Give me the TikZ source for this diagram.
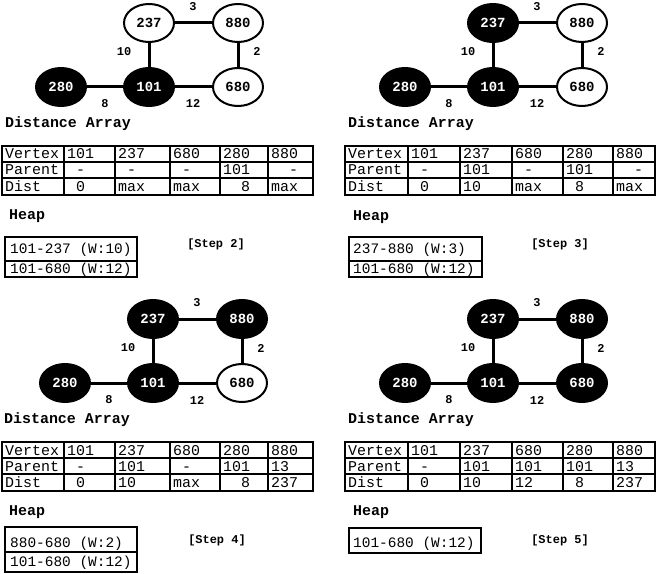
\documentclass[tikz,border=0pt]{standalone}
\usepackage{fontspec}
\setmonofont{Liberation Mono}
\usetikzlibrary{shapes.geometric}

\begin{document}
\begin{tikzpicture}[x=1bp,y=-1bp,
    vtx/.style={ellipse,draw,line width=2bp,minimum width=50bp,minimum height=38bp,inner sep=0pt,
      font=\ttfamily\bfseries\fontsize{14}{14}\selectfont},
    done/.style={vtx,fill=black,text=white},
    open/.style={vtx,fill=white,text=black},
    edge/.style={line width=3bp},
    wt/.style={inner sep=0pt,font=\ttfamily\bfseries\fontsize{12}{12}\selectfont},
    title/.style={anchor=west,inner sep=0pt,font=\ttfamily\bfseries\fontsize{15}{15}\selectfont},
    cell/.style={anchor=west,inner sep=0pt,text height=10bp,text depth=0pt,
      font=\ttfamily\fontsize{15}{15}\selectfont},
    heapitem/.style={anchor=west,inner sep=0pt,text height=10bp,text depth=0pt,
      font=\ttfamily\fontsize{14.5}{14.5}\selectfont},
    steplabel/.style={inner sep=0pt,font=\ttfamily\bfseries\fontsize{12}{12}\selectfont},
    rule/.style={line width=1.6bp},
    box/.style={line width=2bp}]
  \useasboundingbox (0,0) rectangle (659,574);

  %%% Step 2 (top left)
  % graph
  \begin{scope}[shift={(149,87)}]
    \node[done] (a101) at (0,0) {101};
    \node[open] (a237) at (0,-64) {237};
    \node[open] (a880) at (89,-64) {880};
    \node[open] (a680) at (89,0) {680};
    \node[done] (a280) at (-88,0) {280};
    \draw[edge] (a280) -- (a101);
    \draw[edge] (a101) -- (a237);
    \draw[edge] (a237) -- (a880);
    \draw[edge] (a880) -- (a680);
    \draw[edge] (a101) -- (a680);
    \node[wt] (aw3) at (44,-80) {3};
    \node[wt] (aw10) at (-25,-35) {10};
    \node[wt] (aw2) at (108,-35) {2};
    \node[wt] (aw8) at (-44,17) {8};
    \node[wt] (aw12) at (44,17) {12};
  \end{scope}
  % distance array
  \node[title] (adist) at (5,124) {Distance Array};
  \draw[rule] (2,146) rectangle (313,195);
  \foreach \y in {162,178} \draw[rule] (2,\y) -- (313,\y);
  \foreach \x in {64,115,170,220,268} \draw[rule] (\x,146) -- (\x,195);
  \foreach \x/\t in {2/Vertex,64/101,115/237,170/680,220/280,268/880}
    \node[cell] (av\x) at (\x+3,154) {\t};
  \foreach \x/\t in {2/Parent,64/~-,115/~-,170/~-,220/101,268/~~-}
    \node[cell] (ap\x) at (\x+3,170) {\t};
  \foreach \x/\t in {2/Dist,64/~0,115/max,170/max,220/~~8,268/max}
    \node[cell] (ad\x) at (\x+3,186.5) {\t};
  % heap
  \node[title] (aheap) at (9,216) {Heap};
  \draw[box] (5,237) rectangle (137,277);
  \draw[box] (5,261) -- (137,261);
  \node[heapitem] (ah1) at (10,248) {101-237 (W:10)};
  \node[heapitem] (ah2) at (10,268) {101-680 (W:12)};
  \node[steplabel] (astep) at (216,244) {[Step 2]};

  %%% Step 3 (top right)
  % graph
  \begin{scope}[shift={(493,87)}]
    \node[done] (b101) at (0,0) {101};
    \node[done] (b237) at (0,-64) {237};
    \node[open] (b880) at (89,-64) {880};
    \node[open] (b680) at (89,0) {680};
    \node[done] (b280) at (-88,0) {280};
    \draw[edge] (b280) -- (b101);
    \draw[edge] (b101) -- (b237);
    \draw[edge] (b237) -- (b880);
    \draw[edge] (b880) -- (b680);
    \draw[edge] (b101) -- (b680);
    \node[wt] (bw3) at (44,-80) {3};
    \node[wt] (bw10) at (-25,-35) {10};
    \node[wt] (bw2) at (108,-35) {2};
    \node[wt] (bw8) at (-44,17) {8};
    \node[wt] (bw12) at (44,17) {12};
  \end{scope}
  % distance array
  \node[title] (bdist) at (348,124) {Distance Array};
  \draw[rule] (345,146) rectangle (655,195);
  \foreach \y in {162,178} \draw[rule] (345,\y) -- (655,\y);
  \foreach \x in {408,460,512,563,613} \draw[rule] (\x,146) -- (\x,195);
  \foreach \x/\t in {345/Vertex,408/101,460/237,512/680,563/280,613/880}
    \node[cell] (bv\x) at (\x+3,154) {\t};
  \foreach \x/\t in {345/Parent,408/~-,460/101,512/~-,563/101,613/~~-}
    \node[cell] (bp\x) at (\x+3,170) {\t};
  \foreach \x/\t in {345/Dist,408/~0,460/10,512/max,563/~8,613/max}
    \node[cell] (bd\x) at (\x+3,186.5) {\t};
  % heap
  \node[title] (bheap) at (353,217) {Heap};
  \draw[box] (349,237) rectangle (482,277);
  \draw[box] (349,261) -- (482,261);
  \node[heapitem] (bh1) at (353,248) {237-880 (W:3)};
  \node[heapitem] (bh2) at (353,268) {101-680 (W:12)};
  \node[steplabel] (bstep) at (560,244) {[Step 3]};

  %%% Step 4 (bottom left)
  % graph
  \begin{scope}[shift={(153,383)}]
    \node[done] (c101) at (0,0) {101};
    \node[done] (c237) at (0,-64) {237};
    \node[done] (c880) at (89,-64) {880};
    \node[open] (c680) at (89,0) {680};
    \node[done] (c280) at (-88,0) {280};
    \draw[edge] (c280) -- (c101);
    \draw[edge] (c101) -- (c237);
    \draw[edge] (c237) -- (c880);
    \draw[edge] (c880) -- (c680);
    \draw[edge] (c101) -- (c680);
    \node[wt] (cw3) at (44,-80) {3};
    \node[wt] (cw10) at (-25,-35) {10};
    \node[wt] (cw2) at (108,-35) {2};
    \node[wt] (cw8) at (-44,17) {8};
    \node[wt] (cw12) at (44,17) {12};
  \end{scope}
  % distance array
  \node[title] (cdist) at (4,420) {Distance Array};
  \draw[rule] (2,442) rectangle (313,491);
  \foreach \y in {458,474} \draw[rule] (2,\y) -- (313,\y);
  \foreach \x in {64,115,170,220,268} \draw[rule] (\x,442) -- (\x,491);
  \foreach \x/\t in {2/Vertex,64/101,115/237,170/680,220/280,268/880}
    \node[cell] (cv\x) at (\x+3,450) {\t};
  \foreach \x/\t in {2/Parent,64/~-,115/101,170/~-,220/101,268/13}
    \node[cell] (cp\x) at (\x+3,466) {\t};
  \foreach \x/\t in {2/Dist,64/~0,115/10,170/max,220/~~8,268/237}
    \node[cell] (cd\x) at (\x+3,482.5) {\t};
  % heap
  \node[title] (cheap) at (9,512) {Heap};
  \draw[box] (5,527) rectangle (137,572);
  \draw[box] (5,552) -- (137,552);
  \node[heapitem] (ch1) at (10,542) {880-680 (W:2)};
  \node[heapitem] (ch2) at (10,561) {101-680 (W:12)};
  \node[steplabel] (cstep) at (217,540) {[Step 4]};

  %%% Step 5 (bottom right)
  % graph
  \begin{scope}[shift={(493,383)}]
    \node[done] (d101) at (0,0) {101};
    \node[done] (d237) at (0,-64) {237};
    \node[done] (d880) at (89,-64) {880};
    \node[done] (d680) at (89,0) {680};
    \node[done] (d280) at (-88,0) {280};
    \draw[edge] (d280) -- (d101);
    \draw[edge] (d101) -- (d237);
    \draw[edge] (d237) -- (d880);
    \draw[edge] (d880) -- (d680);
    \draw[edge] (d101) -- (d680);
    \node[wt] (dw3) at (44,-80) {3};
    \node[wt] (dw10) at (-25,-35) {10};
    \node[wt] (dw2) at (108,-35) {2};
    \node[wt] (dw8) at (-44,17) {8};
    \node[wt] (dw12) at (44,17) {12};
  \end{scope}
  % distance array
  \node[title] (ddist) at (348,420) {Distance Array};
  \draw[rule] (345,442) rectangle (655,491);
  \foreach \y in {458,474} \draw[rule] (345,\y) -- (655,\y);
  \foreach \x in {408,460,512,563,613} \draw[rule] (\x,442) -- (\x,491);
  \foreach \x/\t in {345/Vertex,408/101,460/237,512/680,563/280,613/880}
    \node[cell] (dv\x) at (\x+3,450) {\t};
  \foreach \x/\t in {345/Parent,408/~-,460/101,512/101,563/101,613/13}
    \node[cell] (dp\x) at (\x+3,466) {\t};
  \foreach \x/\t in {345/Dist,408/~0,460/10,512/12,563/~8,613/237}
    \node[cell] (dd\x) at (\x+3,482.5) {\t};
  % heap
  \node[title] (dheap) at (353,512) {Heap};
  \draw[box] (349,528) rectangle (481,553);
  \node[heapitem] (dh1) at (353,542) {101-680 (W:12)};
  \node[steplabel] (dstep) at (560,540) {[Step 5]};
\end{tikzpicture}
\end{document}
